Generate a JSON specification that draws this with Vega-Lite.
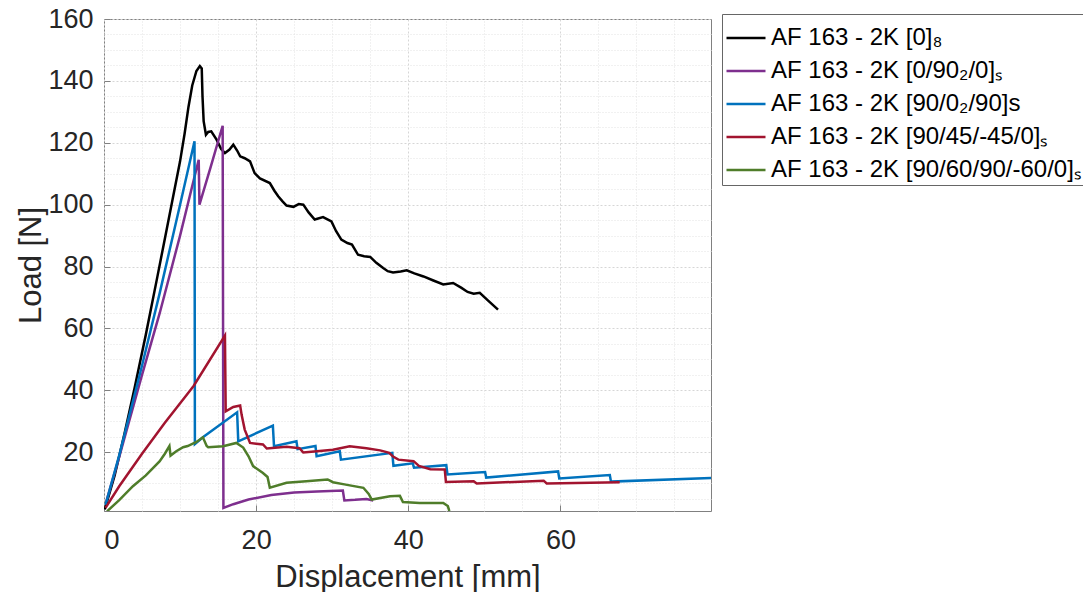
{
  "$schema": "https://vega.github.io/schema/vega-lite/v6.json",
  "width": 607,
  "height": 492,
  "autosize": {"type": "none"},
  "padding": {"left": 104, "top": 19, "right": 372, "bottom": 81},
  "background": "white",
  "config": {"view": {"stroke": "#808080", "strokeWidth": 1}, "font": "Liberation Sans"},
  "data": {"values": [
    {"k":"a","d":0.1,"f":1.5},{"k":"a","d":1.4,"f":12.5},{"k":"a","d":2.7,"f":26},{"k":"a","d":4,"f":40.5},{"k":"a","d":5.5,"f":58},{"k":"a","d":7,"f":76.5},{"k":"a","d":8,"f":89},{"k":"a","d":9,"f":101.5},{"k":"a","d":10,"f":114},{"k":"a","d":10.6,"f":123},{"k":"a","d":11.1,"f":131.5},{"k":"a","d":11.6,"f":138.5},{"k":"a","d":12.15,"f":143.2},{"k":"a","d":12.6,"f":144.8},{"k":"a","d":12.85,"f":144},{"k":"a","d":12.95,"f":135},{"k":"a","d":13.1,"f":127},{"k":"a","d":13.4,"f":122.6},{"k":"a","d":13.7,"f":123.5},{"k":"a","d":14.1,"f":123.7},{"k":"a","d":14.8,"f":121},{"k":"a","d":15.4,"f":118},{"k":"a","d":15.9,"f":116.7},{"k":"a","d":16.5,"f":117.8},{"k":"a","d":17.0,"f":119.4},{"k":"a","d":17.5,"f":117.5},{"k":"a","d":17.9,"f":115.6},{"k":"a","d":18.5,"f":115},{"k":"a","d":19.2,"f":114},{"k":"a","d":19.8,"f":110.2},{"k":"a","d":20.5,"f":108.5},{"k":"a","d":21.8,"f":107},{"k":"a","d":22.4,"f":104.5},{"k":"a","d":22.9,"f":102.7},{"k":"a","d":23.5,"f":101},{"k":"a","d":24.0,"f":99.7},{"k":"a","d":24.9,"f":99.3},{"k":"a","d":25.6,"f":100.2},{"k":"a","d":26.2,"f":100},{"k":"a","d":26.9,"f":97.5},{"k":"a","d":27.7,"f":95.2},{"k":"a","d":28.8,"f":96},{"k":"a","d":29.9,"f":94.6},{"k":"a","d":30.5,"f":91.5},{"k":"a","d":31.2,"f":88.7},{"k":"a","d":32.0,"f":87.6},{"k":"a","d":32.6,"f":87.1},{"k":"a","d":33.4,"f":83.8},{"k":"a","d":34.2,"f":83.3},{"k":"a","d":35.0,"f":83.1},{"k":"a","d":35.8,"f":81.2},{"k":"a","d":36.7,"f":79.5},{"k":"a","d":37.3,"f":78.5},{"k":"a","d":38.0,"f":78.1},{"k":"a","d":39.0,"f":78.4},{"k":"a","d":39.8,"f":78.8},{"k":"a","d":40.8,"f":77.8},{"k":"a","d":42.0,"f":76.8},{"k":"a","d":43.3,"f":75.5},{"k":"a","d":44.6,"f":74.2},{"k":"a","d":45.9,"f":74.7},{"k":"a","d":47.0,"f":73.1},{"k":"a","d":47.8,"f":71.8},{"k":"a","d":48.6,"f":71.2},{"k":"a","d":49.4,"f":71.5},{"k":"a","d":50.5,"f":69},{"k":"a","d":51.8,"f":66.1},
    {"k":"b","d":0.3,"f":4},{"k":"b","d":2,"f":18.5},{"k":"b","d":5,"f":45},{"k":"b","d":7.33,"f":65},{"k":"b","d":10,"f":90},{"k":"b","d":12.45,"f":114.5},{"k":"b","d":12.55,"f":100},{"k":"b","d":14,"f":112},{"k":"b","d":15.6,"f":125.5},{"k":"b","d":15.7,"f":2},{"k":"b","d":17,"f":3.2},{"k":"b","d":19,"f":4.7},{"k":"b","d":22,"f":6.2},{"k":"b","d":25,"f":7.0},{"k":"b","d":28,"f":7.3},{"k":"b","d":31.4,"f":7.6},{"k":"b","d":31.6,"f":4.4},{"k":"b","d":33,"f":4.6},{"k":"b","d":34.5,"f":4.9},{"k":"b","d":35.4,"f":4.4},
    {"k":"c","d":0.2,"f":3},{"k":"c","d":2,"f":19},{"k":"c","d":5,"f":48},{"k":"c","d":7.33,"f":71.5},{"k":"c","d":10,"f":100},{"k":"c","d":11.9,"f":120.5},{"k":"c","d":11.95,"f":22.6},{"k":"c","d":13,"f":24.8},{"k":"c","d":17.5,"f":32.9},{"k":"c","d":17.65,"f":23.5},{"k":"c","d":22.2,"f":28.6},{"k":"c","d":22.35,"f":21.9},{"k":"c","d":25.3,"f":23.5},{"k":"c","d":25.45,"f":21.0},{"k":"c","d":27.8,"f":22.0},{"k":"c","d":27.95,"f":18.7},{"k":"c","d":31.0,"f":20.3},{"k":"c","d":31.15,"f":17.6},{"k":"c","d":37.9,"f":19.8},{"k":"c","d":38.05,"f":15.6},{"k":"c","d":40.6,"f":16.4},{"k":"c","d":40.75,"f":15.0},{"k":"c","d":45.0,"f":15.8},{"k":"c","d":45.15,"f":12.8},{"k":"c","d":50.1,"f":13.6},{"k":"c","d":50.25,"f":11.8},{"k":"c","d":59.7,"f":13.8},{"k":"c","d":59.85,"f":11.5},{"k":"c","d":66.5,"f":12.6},{"k":"c","d":66.65,"f":10.5},{"k":"c","d":79.8,"f":11.7},
    {"k":"d","d":0.2,"f":2},{"k":"d","d":2,"f":9},{"k":"d","d":5,"f":19.5},{"k":"d","d":8,"f":29.5},{"k":"d","d":11.4,"f":40.2},{"k":"d","d":11.8,"f":41.5},{"k":"d","d":15.9,"f":57.7},{"k":"d","d":16.0,"f":33.2},{"k":"d","d":17,"f":34.6},{"k":"d","d":17.9,"f":35.1},{"k":"d","d":18.1,"f":32},{"k":"d","d":18.5,"f":27.3},{"k":"d","d":19.2,"f":23.0},{"k":"d","d":20.9,"f":22.5},{"k":"d","d":21.4,"f":21.2},{"k":"d","d":24.0,"f":21.8},{"k":"d","d":25.7,"f":21.3},{"k":"d","d":26.2,"f":19.9},{"k":"d","d":28,"f":20.3},{"k":"d","d":30.1,"f":20.8},{"k":"d","d":32.3,"f":21.9},{"k":"d","d":34.5,"f":21.3},{"k":"d","d":36.3,"f":20.6},{"k":"d","d":37.5,"f":19.8},{"k":"d","d":38.0,"f":18.6},{"k":"d","d":38.7,"f":17.6},{"k":"d","d":40.7,"f":17.1},{"k":"d","d":41.4,"f":15.6},{"k":"d","d":42.9,"f":14.5},{"k":"d","d":44.8,"f":14.4},{"k":"d","d":44.95,"f":10.4},{"k":"d","d":48.6,"f":10.6},{"k":"d","d":49.0,"f":9.9},{"k":"d","d":57.8,"f":10.8},{"k":"d","d":58.2,"f":9.9},{"k":"d","d":67.8,"f":10.3},
    {"k":"e","d":0.4,"f":0.9},{"k":"e","d":2,"f":4.5},{"k":"e","d":3.8,"f":9},{"k":"e","d":5.5,"f":12.5},{"k":"e","d":7.3,"f":17},{"k":"e","d":8,"f":19.5},{"k":"e","d":8.6,"f":22},{"k":"e","d":8.75,"f":18.9},{"k":"e","d":9.5,"f":20.3},{"k":"e","d":10.4,"f":21.6},{"k":"e","d":11,"f":22},{"k":"e","d":12.15,"f":23.3},{"k":"e","d":13.0,"f":24.8},{"k":"e","d":13.5,"f":22},{"k":"e","d":13.7,"f":21.6},{"k":"e","d":15.66,"f":21.9},{"k":"e","d":17.4,"f":23.0},{"k":"e","d":18.3,"f":21.5},{"k":"e","d":19.0,"f":18.7},{"k":"e","d":19.6,"f":15.5},{"k":"e","d":20.9,"f":13.3},{"k":"e","d":21.5,"f":12},{"k":"e","d":21.8,"f":8.5},{"k":"e","d":24.0,"f":10.1},{"k":"e","d":26.6,"f":10.6},{"k":"e","d":29.4,"f":11.2},{"k":"e","d":30.1,"f":10.3},{"k":"e","d":31.6,"f":9.6},{"k":"e","d":34.1,"f":8.5},{"k":"e","d":34.8,"f":6.5},{"k":"e","d":35.2,"f":4.7},{"k":"e","d":37.6,"f":5.8},{"k":"e","d":38.9,"f":5.9},{"k":"e","d":39.3,"f":3.9},{"k":"e","d":41.5,"f":3.6},{"k":"e","d":44.6,"f":3.6},{"k":"e","d":45.2,"f":2.6},{"k":"e","d":45.4,"f":1}
  ]},
  "layer": [
    {
      "mark": {"type": "point", "opacity": 0},
      "encoding": {
        "x": {"field": "d", "type": "quantitative", "scale": {"domain": [0, 79.8], "nice": false, "zero": false},
          "axis": {"orient": "top", "values": [5,10,15,25,30,35,45,50,55,65,70,75], "labels": false, "ticks": false, "domain": false, "grid": true, "gridColor": "#e2e2e2", "gridDash": [1,2], "title": null}},
        "y": {"field": "f", "type": "quantitative", "scale": {"domain": [1, 160], "nice": false, "zero": false},
          "axis": {"orient": "right", "values": [5,10,15,25,30,35,45,50,55,65,70,75,85,90,95,105,110,115,125,130,135,145,150,155], "labels": false, "ticks": false, "domain": false, "grid": true, "gridColor": "#e2e2e2", "gridDash": [1,2], "title": null}}
      }
    },
    {
      "mark": {"type": "line", "strokeWidth": 2.5, "clip": true},
      "encoding": {
        "x": {"field": "d", "type": "quantitative", "scale": {"domain": [0, 79.8], "nice": false, "zero": false},
          "axis": {"orient": "bottom", "values": [0,20,40,60], "grid": true, "gridColor": "#d6d6d6", "gridDash": [2,2], "domain": false,
            "ticks": true, "tickSize": -6, "tickColor": "#808080", "labelPadding": 22, "labelFontSize": 27, "labelColor": "#262626", "labelFont": "Liberation Sans",
            "title": "Displacement [mm]", "titleFontSize": 31, "titleFontWeight": "normal", "titleColor": "#262626", "titleFont": "Liberation Sans", "titleY": 75, "titleBaseline": "alphabetic"}},
        "y": {"field": "f", "type": "quantitative", "scale": {"domain": [1, 160], "nice": false, "zero": false},
          "axis": {"orient": "left", "values": [20,40,60,80,100,120,140,160], "grid": true, "gridColor": "#d6d6d6", "gridDash": [2,2], "domain": false,
            "ticks": true, "tickSize": -6, "tickColor": "#808080", "labelPadding": 17, "labelFontSize": 27, "labelColor": "#262626", "labelFont": "Liberation Sans",
            "title": "Load [N]", "titleFontSize": 31, "titleFontWeight": "normal", "titleColor": "#262626", "titleFont": "Liberation Sans", "titleX": -64, "titleBaseline": "alphabetic"}},
        "color": {"field": "k", "type": "nominal",
          "scale": {"domain": ["a","b","c","d","e"], "range": ["#000000","#7E2F8E","#0072BD","#A2142F","#4F7D2A"]},
          "legend": {"orient": "none", "legendX": 618, "legendY": -5, "title": null, "symbolType": "stroke", "symbolSize": 1521, "symbolStrokeWidth": 2.5,
            "labelFontSize": 24, "labelFont": "Liberation Sans", "labelColor": "#000000", "labelOffset": 4, "rowPadding": 0, "padding": 3,
            "strokeColor": "#666666", "fillColor": "white", "cornerRadius": 0, "labelLimit": 400,
            "labelExpr": "datum.label == 'a' ? 'AF 163 - 2K [0]₈' : datum.label == 'b' ? 'AF 163 - 2K [0/90₂/0]ₛ' : datum.label == 'c' ? 'AF 163 - 2K [90/0₂/90]s' : datum.label == 'd' ? 'AF 163 - 2K [90/45/-45/0]ₛ' : 'AF 163 - 2K [90/60/90/-60/0]ₛ'"}}
      }
    }
  ],
  "resolve": {"axis": {"x": "independent", "y": "independent"}}
}
